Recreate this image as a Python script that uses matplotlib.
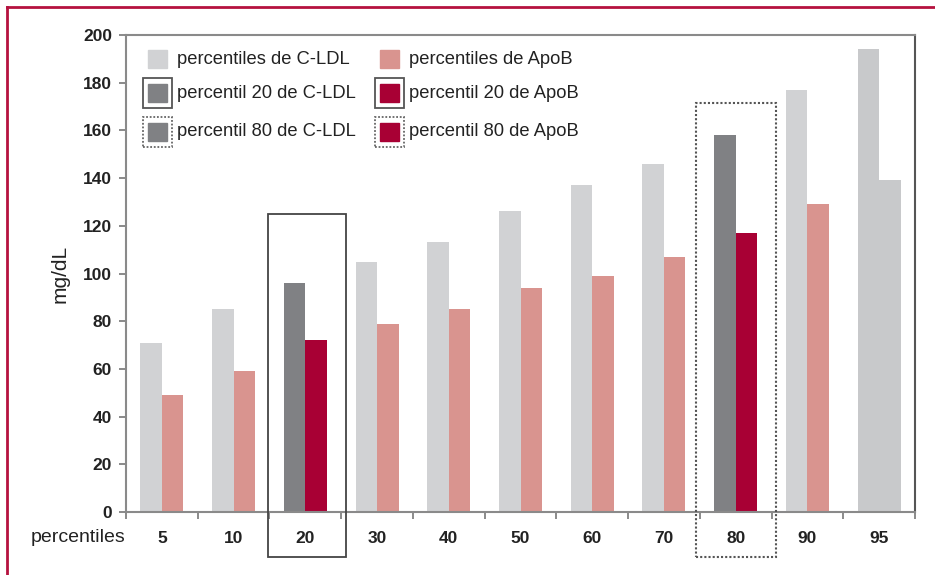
import numpy as np
import matplotlib
matplotlib.use('Agg')
import matplotlib.pyplot as plt
from matplotlib.patches import Rectangle
from matplotlib.lines import Line2D

plt.rcParams['font.family'] = ['Liberation Sans', 'DejaVu Sans']

# datos
percentiles = ['5', '10', '20', '30', '40', '50', '60', '70', '80', '90', '95']
c_ldl = [71, 85, 96, 105, 113, 126, 137, 146, 158, 177, 194]
apob = [49, 59, 72, 79, 85, 94, 99, 107, 117, 129, 139]

# colores
C_LIGHT = '#d1d2d4'
C_PINK = '#d9948f'
C_DARK = '#808184'
C_RED = '#a80034'
C_95 = '#c8c9cb'
FRAME = '#b5123f'

bar_colors_ldl = [C_LIGHT] * len(percentiles)
bar_colors_apob = [C_PINK] * len(percentiles)
for i, p in enumerate(percentiles):
    if p in ('20', '80'):
        bar_colors_ldl[i] = C_DARK
        bar_colors_apob[i] = C_RED
    if p == '95':
        bar_colors_ldl[i] = C_95
        bar_colors_apob[i] = C_95

fig = plt.figure(figsize=(9.35, 5.75), dpi=100)
ax = fig.add_axes([126 / 935, 1 - 512 / 575, 789 / 935, 477 / 575])

x = np.arange(len(percentiles))
w = 0.3
ax.bar(x - w / 2, c_ldl, w, color=bar_colors_ldl, zorder=2)
ax.bar(x + w / 2, apob, w, color=bar_colors_apob, zorder=2)

ax.set_xlim(-0.5, len(percentiles) - 0.5)
ax.set_ylim(0, 200)
ax.set_yticks(range(0, 201, 20))
ax.set_xticks(x)
ax.set_xticklabels(percentiles, fontweight='bold', fontsize=12.5, color='#222222')
ax.set_xticks(np.arange(-0.5, len(percentiles)), minor=True)
ax.tick_params(axis='x', which='major', length=0, pad=14)
ax.tick_params(axis='x', which='minor', length=5, color='#777777', width=1.2)
ax.tick_params(axis='y', length=5, color='#777777', width=1.2, pad=5)
for lab in ax.get_yticklabels():
    lab.set_fontweight('bold')
    lab.set_fontsize(12.5)
    lab.set_color('#222222')

for s in ['left', 'bottom', 'top']:
    ax.spines[s].set_color('#8a8a8a')
    ax.spines[s].set_linewidth(1.5)
ax.spines['right'].set_color('#555555')
ax.spines['right'].set_linewidth(1.5)

ax.set_ylabel('mg/dL', fontsize=15, color='#222222', labelpad=10)
fig.text(125 / 935, 1 - 537 / 575, 'percentiles', ha='right', va='center',
         fontsize=14, color='#222222')

# recuadros de los percentiles 20 y 80
ax.add_patch(Rectangle((1.48, -19), 1.09, 144, fill=False, ec='#444444',
                       lw=1.3, clip_on=False, zorder=3))
ax.add_patch(Rectangle((7.45, -19), 1.11, 190.5, fill=False, ec='#555555',
                       lw=1.5, ls=(0, (1, 1)), clip_on=False, zorder=3))


# leyenda dibujada a mano
def px(xp, yp):
    return (xp - 126) / 789, (512 - yp) / 477


legend_rows = [
    ('percentiles de C-LDL', C_LIGHT, 'percentiles de ApoB', C_PINK, None),
    ('percentil 20 de C-LDL', C_DARK, 'percentil 20 de ApoB', C_RED, '-'),
    ('percentil 80 de C-LDL', C_DARK, 'percentil 80 de ApoB', C_RED, ':'),
]
row_y = [59, 93, 132]
for (t1, c1, t2, c2, frame), yc in zip(legend_rows, row_y):
    for xs, txt, col in [(148, t1, c1), (380, t2, c2)]:
        x0, y0 = px(xs, yc + 9)
        x1, y1 = px(xs + 19, yc - 9)
        ax.add_patch(Rectangle((x0, y0), x1 - x0, y1 - y0, color=col,
                               transform=ax.transAxes, zorder=4))
        if frame is not None:
            bx0, by0 = px(xs - 5, yc + 15)
            bx1, by1 = px(xs + 24, yc - 15)
            ls = '-' if frame == '-' else (0, (1, 1))
            ec = '#555555' if frame == '-' else '#666666'
            ax.add_patch(Rectangle((bx0, by0), bx1 - bx0, by1 - by0, fill=False,
                                   ec=ec, lw=1.3, ls=ls, transform=ax.transAxes,
                                   zorder=4))
        tx, ty = px(xs + 29, yc)
        ax.text(tx, ty, txt, transform=ax.transAxes, ha='left', va='center',
                fontsize=13.2, color='#222222', zorder=4)

# marco exterior
fig.add_artist(Line2D([7 / 935, 7 / 935], [0, 1 - 7 / 575], color=FRAME, lw=2,
                      transform=fig.transFigure))
fig.add_artist(Line2D([7 / 935, 1], [1 - 7 / 575, 1 - 7 / 575], color=FRAME, lw=2,
                      transform=fig.transFigure))

fig.savefig('out.png', dpi=100)
